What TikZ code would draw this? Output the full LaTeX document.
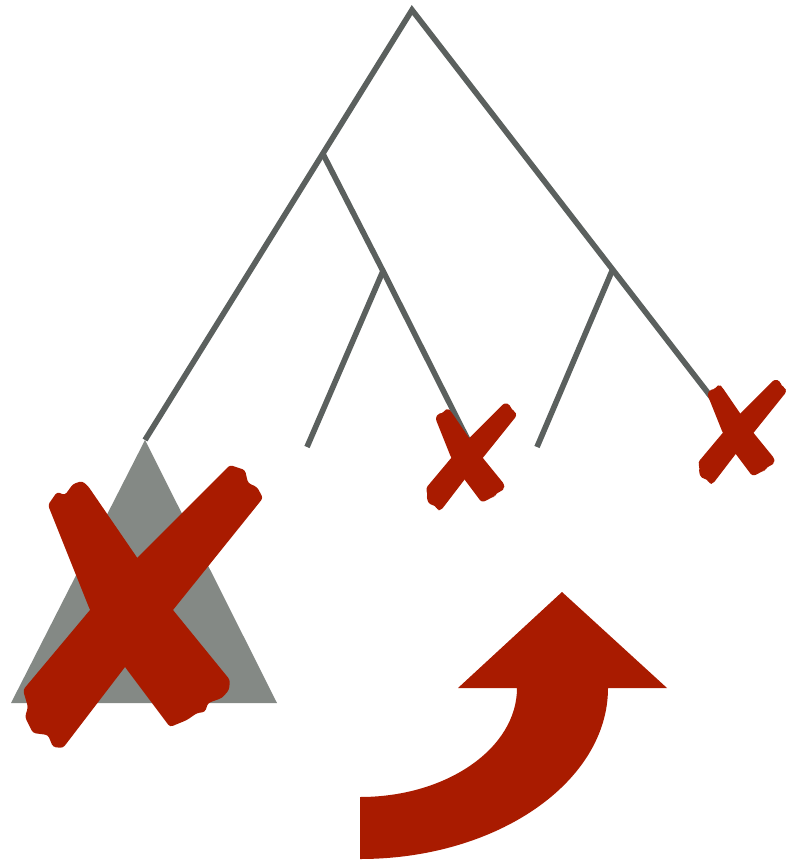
\documentclass[tikz,border=0pt]{standalone}
\usepackage{tikz}
\definecolor{treegray}{HTML}{5B605E}
\definecolor{cladegray}{HTML}{848985}
\definecolor{cutred}{HTML}{A91B00}

\begin{document}
\begin{tikzpicture}[
    x=0.01cm, y=-0.01cm,
    branch/.style={draw=treegray, line width=1.6pt},
    cut/.style={fill=cutred, rounded corners=0.8pt},
    crossout/.pic={
        \fill[cut] (-94,-100) -- (-85,-113) -- (-77,-110) -- (-69,-121) -- (-60,-124) -- (-54,-119)
            -- (31,5) -- (88,75) -- (87,85) -- (80,93) -- (66,98) -- (63,107) -- (55,108)
            -- (45,115) -- (28,122) -- (-17,62) -- (-52,5) -- cycle;
        \fill[cut] (88,-140) -- (103,-135) -- (106,-122) -- (115,-118) -- (121,-107)
            -- (31,5) -- (-17,62) -- (-79,143) -- (-89,142) -- (-94,130) -- (-109,128)
            -- (-117,112) -- (-114,102) -- (-119,85) -- (-52,5) -- (-4,-48) -- cycle;
    },
]
\useasboundingbox (0,0) rectangle (788,861);
% clade
\fill[cladegray] (145,440) -- (277,703) -- (11,703) -- cycle;
% tree
\coordinate (root) at (412,10);
\coordinate (na) at (323,154);
\coordinate (nb) at (383,271);
\coordinate (nc) at (612,271);
\coordinate (apex) at (145,440);
\coordinate (b1) at (307,447);
\coordinate (b2) at (468,440);
\coordinate (c1) at (537,447);
\coordinate (c2) at (715,402);
\draw[branch] (apex) -- (root) -- (c2);
\draw[branch] (na) -- (nb) -- (b2);
\draw[branch] (nb) -- (b1);
\draw[branch] (nc) -- (c1);
% crosses
\pic at (142,605) {crossout};
\pic[scale=0.38] at (471,456) {crossout};
\pic[scale=0.37] at (742,431) {crossout};
% arrow
\fill[cutred] (360,797) .. controls (447,797) and (517,748) .. (517,688) -- (458,688)
    -- (562,592) -- (667,688) -- (608,688) .. controls (608,782) and (497,859) .. (360,859) -- cycle;
\end{tikzpicture}
\end{document}
